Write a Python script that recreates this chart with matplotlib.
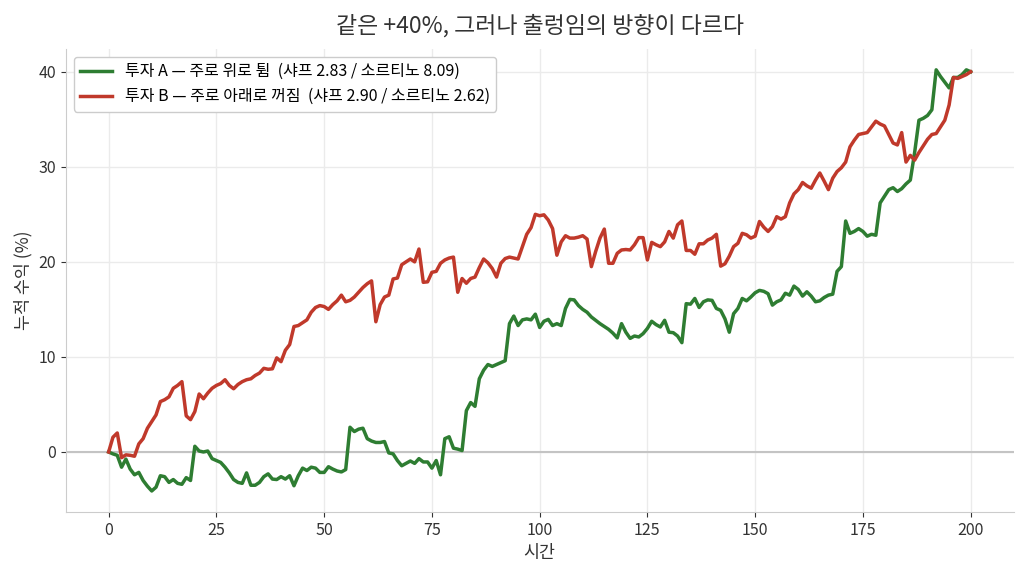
import numpy as np
import matplotlib
matplotlib.use("Agg")
import matplotlib.pyplot as plt

plt.rcParams['font.family'] = ['Noto Sans CJK KR', 'DejaVu Sans']

# 누적 수익 (%) — 0..200
투자A = [
    0.0, -0.2, -0.35, -1.6, -0.75, -1.8, -2.4, -2.15, -3.0, -3.6,
    -4.1, -3.7, -2.5, -2.6, -3.2, -2.9, -3.3, -3.4, -2.7, -3.0,
    0.6, 0.1, 0.0, 0.1, -0.7, -0.9, -1.1, -1.6, -2.2, -2.9,
    -3.2, -3.3, -2.2, -3.5, -3.5, -3.2, -2.6, -2.3, -2.85, -2.9,
    -2.6, -2.85, -2.5, -3.55, -2.5, -1.7, -1.95, -1.6, -1.7, -2.15,
    -2.15, -1.55, -1.8, -2.0, -2.1, -1.85, 2.6, 2.15, 2.4, 2.5,
    1.4, 1.15, 1.0, 1.0, 1.1, -0.1, -0.2, -0.9, -1.45, -1.2,
    -0.95, -1.2, -0.7, -1.05, -1.05, -1.7, -0.9, -2.4, 1.4, 1.6,
    0.4, 0.3, 0.15, 4.35, 5.2, 4.8, 7.7, 8.6, 9.2, 9.0,
    9.2, 9.4, 9.6, 13.5, 14.3, 13.3, 13.9, 14.0, 13.9, 14.5,
    13.1, 13.75, 13.95, 13.3, 13.5, 13.3, 15.1, 16.05, 16.0, 15.4,
    15.0, 14.7, 14.2, 13.85, 13.5, 13.2, 12.9, 12.5, 12.0, 13.5,
    12.6, 11.95, 12.2, 12.1, 12.45, 13.0, 13.75, 13.4, 13.15, 13.85,
    12.6, 12.55, 12.2, 11.5, 15.6, 15.55, 16.15, 15.2, 15.8, 16.0,
    15.95, 15.1, 14.9, 14.0, 12.6, 14.55, 15.1, 16.15, 15.9, 16.3,
    16.75, 17.0, 16.9, 16.65, 15.45, 15.8, 16.0, 16.7, 16.5, 17.45,
    17.1, 16.4, 16.85, 16.4, 15.8, 15.9, 16.25, 16.5, 16.6, 19.0,
    19.5, 24.3, 23.0, 23.2, 23.5, 23.2, 22.7, 22.9, 22.8, 26.2,
    26.9, 27.6, 27.8, 27.4, 27.7, 28.2, 28.6, 31.5, 34.9, 35.1,
    35.4, 36.0, 40.2, 39.5, 38.9, 38.3, 39.4, 39.4, 39.7, 40.2,
    40.0,
]

투자B = [
    0.0, 1.55, 2.0, -0.6, -0.3, -0.35, -0.45, 0.85, 1.4, 2.5,
    3.2, 3.9, 5.3, 5.5, 5.8, 6.7, 7.0, 7.4, 3.8, 3.4,
    4.25, 6.1, 5.6, 6.2, 6.7, 7.0, 7.2, 7.6, 7.0, 6.65,
    7.1, 7.4, 7.6, 7.7, 8.05, 8.3, 8.8, 8.7, 8.75, 9.9,
    9.5, 10.7, 11.3, 13.2, 13.3, 13.6, 13.9, 14.7, 15.2, 15.4,
    15.3, 15.0, 15.5, 15.9, 16.5, 15.8, 15.95, 16.3, 16.8, 17.3,
    17.7, 18.0, 13.7, 15.5, 16.3, 16.5, 18.2, 18.3, 19.7, 20.0,
    20.3, 20.0, 21.35, 17.85, 17.9, 18.9, 19.0, 19.85, 20.2, 20.4,
    20.5, 16.8, 18.25, 17.75, 18.25, 18.4, 19.4, 20.3, 19.9, 19.3,
    18.4, 19.85, 20.35, 20.5, 20.4, 20.3, 21.6, 22.9, 23.6, 25.0,
    24.85, 24.95, 24.4, 23.5, 20.7, 22.1, 22.75, 22.5, 22.5, 22.6,
    22.75, 22.4, 19.5, 21.1, 22.5, 23.45, 19.85, 19.85, 20.9, 21.25,
    21.3, 21.25, 21.8, 22.55, 22.55, 20.2, 22.05, 21.8, 21.6, 22.1,
    23.2, 22.5, 23.9, 24.3, 21.2, 21.2, 20.8, 21.9, 21.9, 22.3,
    22.5, 22.9, 19.55, 19.8, 20.6, 21.6, 21.95, 23.0, 22.85, 22.5,
    22.7, 24.25, 23.65, 23.2, 23.7, 24.75, 24.5, 24.75, 26.2, 27.15,
    27.6, 28.35, 28.0, 27.75, 28.6, 29.35, 28.5, 27.6, 28.8, 29.5,
    29.9, 30.5, 32.1, 32.8, 33.4, 33.5, 33.6, 34.2, 34.8, 34.5,
    34.3, 33.4, 32.5, 32.3, 33.6, 30.5, 31.2, 30.7, 31.5, 32.2,
    32.9, 33.4, 33.5, 34.2, 34.9, 36.5, 39.4, 39.3, 39.5, 39.7,
    40.0,
]

시간 = np.arange(len(투자A))

fig, ax = plt.subplots(figsize=(10.24, 5.74), dpi=100)

ax.axhline(0, color='#c4c4c4', lw=1.5, zorder=1)
ax.plot(시간, 투자A, color='#2e7d32', lw=2.5,
        label='투자 A — 주로 위로 튐  (샤프 2.83 / 소르티노 8.09)', zorder=3)
ax.plot(시간, 투자B, color='#c0392b', lw=2.5,
        label='투자 B — 주로 아래로 꺼짐  (샤프 2.90 / 소르티노 2.62)', zorder=3)

ax.set_title('같은 +40%, 그러나 출렁임의 방향이 다르다', fontsize=16.5, pad=12, color='#333333')
ax.set_xlabel('시간', fontsize=12.5, color='#333333')
ax.set_ylabel('누적 수익 (%)', fontsize=12.5, color='#333333')

ax.set_xticks([0, 25, 50, 75, 100, 125, 150, 175, 200])
ax.set_yticks([0, 10, 20, 30, 40])
ax.grid(True, color='#ebebeb', lw=1)
ax.set_axisbelow(True)
for s in ['top', 'right']:
    ax.spines[s].set_visible(False)
for s in ['left', 'bottom']:
    ax.spines[s].set_color('#cccccc')
ax.tick_params(colors='#333333', labelsize=11.5)

ax.legend(loc='upper left', fontsize=11.5, framealpha=1, edgecolor='#cccccc')

plt.subplots_adjust(left=0.064, right=0.99, top=0.915, bottom=0.108)
plt.savefig('out.png', dpi=100)
